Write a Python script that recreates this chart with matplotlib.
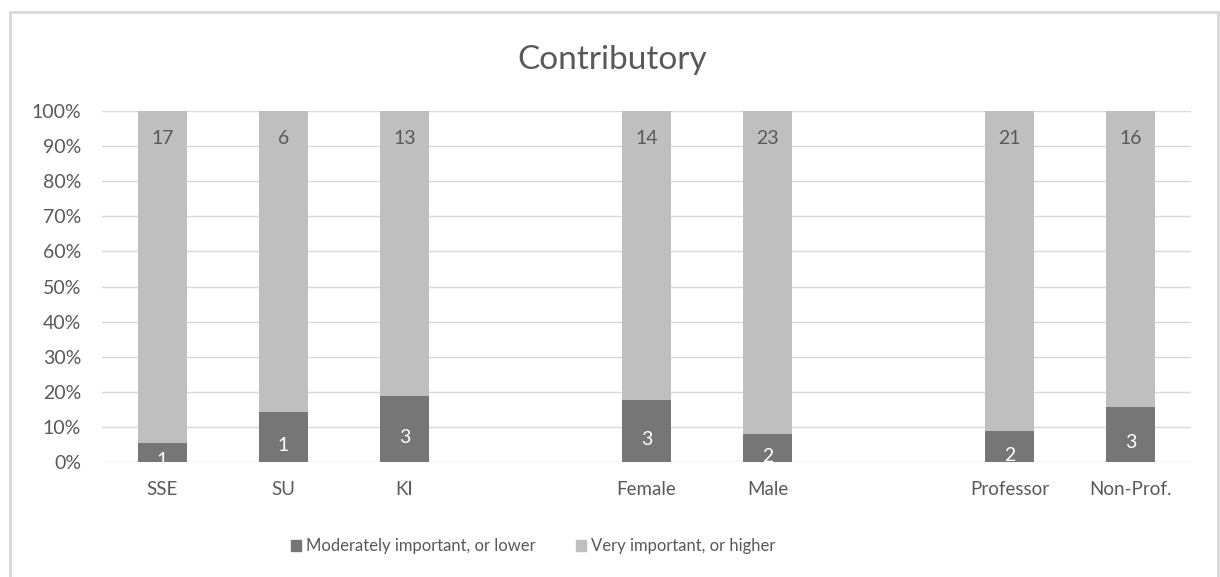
import matplotlib.pyplot as plt
import matplotlib.patches as mpatches
import matplotlib.transforms as mtransforms
import numpy as np

plt.rcParams['font.family'] = ['Lato', 'DejaVu Sans']

# chart data ('' marks an empty slot between groups)
categories = ['SSE', 'SU', 'KI', '', 'Female', 'Male', '', 'Professor', 'Non-Prof.']
moderate = [1, 1, 3, None, 3, 2, None, 2, 3]
very = [17, 6, 13, None, 14, 23, None, 21, 16]
series_names = ['Moderately important, or lower', 'Very important, or higher']

DARK = '#767676'
LIGHT = '#bfbfbf'
TEXT = '#595959'
GRID = '#d9d9d9'


def draw(output='out.png'):
    '''Draw 100% stacked columns'''
    fig = plt.figure(figsize=(12.2, 5.77), dpi=100)
    ax = fig.add_axes([0.0836, 0.1993, 0.8926, 0.6083])

    low_tr = mtransforms.offset_copy(ax.transData, fig=fig, x=0, y=-6, units='points')
    top_tr = mtransforms.offset_copy(ax.transData, fig=fig, x=0, y=-20, units='points')

    xs = np.arange(len(categories))
    for x, lo, hi in zip(xs, moderate, very):
        if lo is None:
            continue
        total = lo + hi
        p_lo = lo / total * 100
        p_hi = hi / total * 100
        ax.bar(x, p_lo, width=0.4, color=DARK, zorder=2)
        ax.bar(x, p_hi, bottom=p_lo, width=0.4, color=LIGHT, zorder=2)
        t = ax.text(x, p_lo / 2, str(lo), transform=low_tr, ha='center', va='center',
                    color='white', fontsize=14, zorder=3)
        t.set_clip_box(ax.bbox)
        t.set_clip_on(True)
        ax.text(x, 100, str(hi), transform=top_tr, ha='center', va='center',
                color=TEXT, fontsize=14, zorder=3)

    ax.set_xlim(-0.5, len(categories) - 0.5)
    ax.set_ylim(0, 100)
    ax.set_yticks(np.arange(0, 101, 10))
    ax.set_yticklabels(['%d%%' % v for v in range(0, 101, 10)])
    ax.set_xticks(xs)
    ax.set_xticklabels(categories)
    ax.tick_params(axis='both', length=0, colors=TEXT)
    ax.tick_params(axis='x', pad=14, labelsize=13.5)
    ax.tick_params(axis='y', pad=15, labelsize=14)
    ax.yaxis.grid(True, color=GRID, linewidth=1)
    ax.set_axisbelow(True)
    for s in ax.spines.values():
        s.set_visible(False)

    fig.text(0.502, 0.896, 'Contributory', ha='center', va='center',
             fontsize=24, color=TEXT)

    handles = [mpatches.Patch(color=DARK), mpatches.Patch(color=LIGHT)]
    fig.legend(handles, series_names, loc='center', bbox_to_anchor=(0.437, 0.053),
               ncol=2, frameon=False, fontsize=12, labelcolor=TEXT,
               handlelength=0.6, handleheight=0.6, handletextpad=0.3,
               columnspacing=2.4)

    # chart frame
    fig.patches.append(mpatches.Rectangle((10 / 1220, -0.05), 1208 / 1220, 1.05 - 12 / 577,
                                          transform=fig.transFigure, fill=False,
                                          edgecolor='#d9d9d9', linewidth=2))
    fig.savefig(output)


if __name__ == '__main__':
    draw()
